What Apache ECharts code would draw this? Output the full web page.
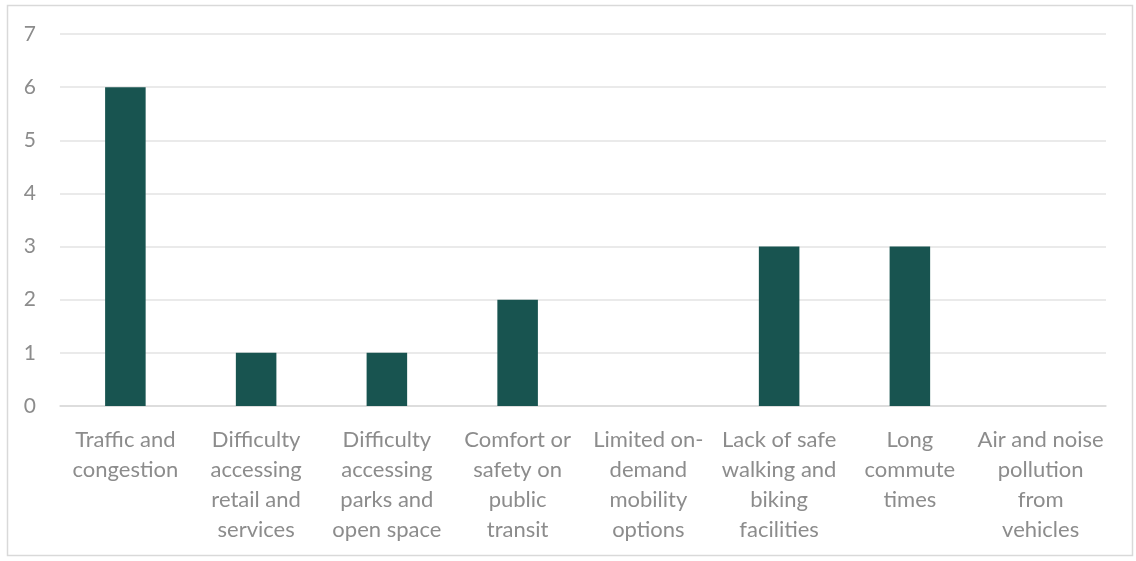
<!DOCTYPE html>
<html>
<head>
<meta charset="utf-8">
<script src="https://cdn.jsdelivr.net/npm/echarts@6/dist/echarts.min.js"></script>
<style>html,body{margin:0;padding:0;background:#fff;}#c{width:1136px;height:561px;}</style>
</head>
<body>
<div id="c"></div>
<script>
const categories = [
  "Traffic and\ncongestion",
  "Difficulty\naccessing\nretail and\nservices",
  "Difficulty\naccessing\nparks and\nopen space",
  "Comfort or\nsafety on\npublic\ntransit",
  "Limited on-\ndemand\nmobility\noptions",
  "Lack of safe\nwalking and\nbiking\nfacilities",
  "Long\ncommute\ntimes",
  "Air and noise\npollution\nfrom\nvehicles"
];
const values = [6, 1, 1, 2, 0, 3, 3, 0];
const yMin = 0, yMax = 7, yInterval = 1;

const chart = echarts.init(document.getElementById('c'));
chart.setOption({
  animation: false,
  backgroundColor: '#fff',
  graphic: [{
    type: 'rect',
    shape: { x: 7.5, y: 5.5, width: 1125, height: 550 },
    style: { fill: 'none', stroke: '#d9d9d9', lineWidth: 1.5 },
    silent: true
  }],
  grid: { left: 60, right: 30, top: 34, bottom: 155, containLabel: false },
  xAxis: {
    type: 'category',
    data: categories,
    axisTick: { show: false },
    axisLine: { lineStyle: { color: '#d9d9d9', width: 1.5 } },
    axisLabel: {
      color: '#8c8c8c', fontFamily: 'Lato', fontSize: 22, lineHeight: 30,
      margin: 19, interval: 0, align: 'center', verticalAlign: 'top'
    }
  },
  yAxis: {
    type: 'value', min: yMin, max: yMax, interval: yInterval,
    axisLine: { show: false }, axisTick: { show: false },
    splitLine: { lineStyle: { color: '#e3e3e3', width: 1.5 } },
    axisLabel: { color: '#8c8c8c', fontFamily: 'Lato', fontSize: 21, margin: 24 }
  },
  series: [{
    type: 'bar', data: values, barWidth: '31%',
    itemStyle: { color: '#185450' }
  }]
});
</script>
</body>
</html>
